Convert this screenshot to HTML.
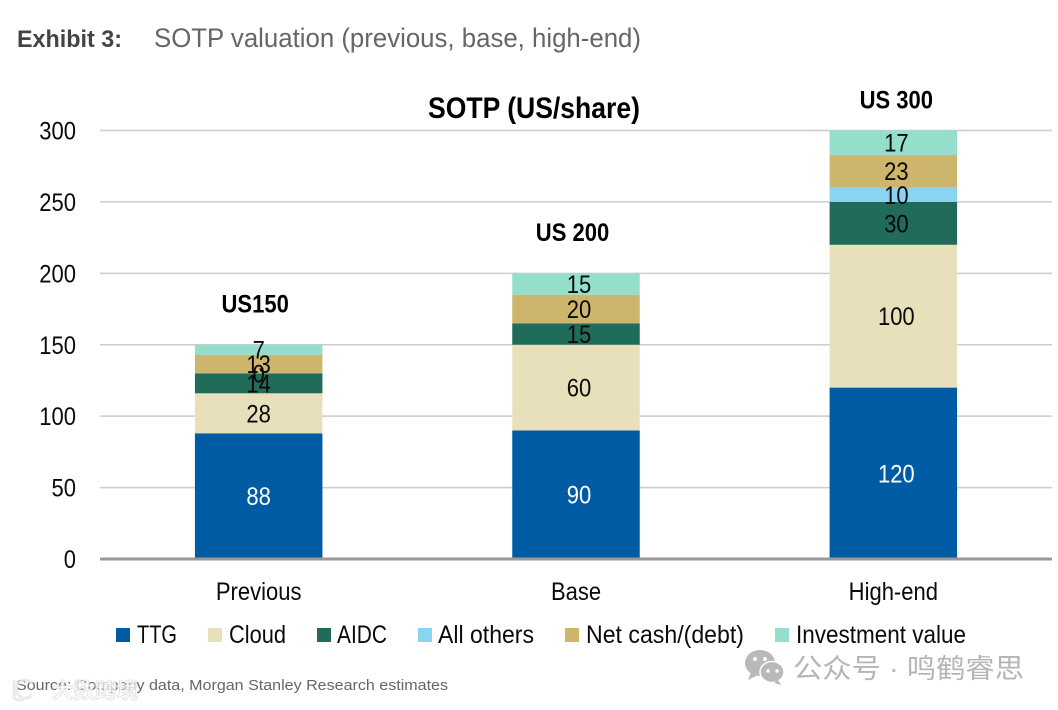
<!DOCTYPE html>
<html lang="en">
<head>
<meta charset="utf-8">
<title>SOTP valuation</title>
<style>
html,body{margin:0;padding:0;background:#fff;}
svg{display:block;}
text{font-family:"Liberation Sans Narrow","Liberation Sans","Noto Sans CJK SC",sans-serif;}
.wide{font-family:"Liberation Sans","Noto Sans CJK SC",sans-serif;}
.leg{font-size:25px;fill:#0a0a0a;}
</style>
</head>
<body>
<svg id="chart" width="1058" height="710" viewBox="0 0 1058 710" xmlns="http://www.w3.org/2000/svg">
  <g id="header">
    <text class="wide" x="17" y="47" font-size="24" font-weight="700" fill="#444" textLength="105" lengthAdjust="spacingAndGlyphs">Exhibit 3:</text>
    <text class="wide" x="154" y="47" font-size="27" fill="#666" textLength="487" lengthAdjust="spacingAndGlyphs">SOTP valuation (previous, base, high-end)</text>
  </g>
  <text x="428" y="118" font-size="30" font-weight="700" fill="#000" textLength="212" lengthAdjust="spacingAndGlyphs">SOTP (US/share)</text>
  <g id="grid"></g>
  <g id="bars"></g>
  <g id="labels"></g>
  <g id="axis"></g>
  <g>
    <g><rect x="116" y="628" width="14" height="14" fill="#005ba5"/><text class="leg" x="137" y="643" textLength="40" lengthAdjust="spacingAndGlyphs">TTG</text></g>
    <g><rect x="208" y="628" width="14" height="14" fill="#e8dfbb"/><text class="leg" x="229" y="643" textLength="57" lengthAdjust="spacingAndGlyphs">Cloud</text></g>
    <g><rect x="317" y="628" width="14" height="14" fill="#216b5a"/><text class="leg" x="337" y="643" textLength="50" lengthAdjust="spacingAndGlyphs">AIDC</text></g>
    <g><rect x="418" y="628" width="14" height="14" fill="#8ad4f2"/><text class="leg" x="438" y="643" textLength="96" lengthAdjust="spacingAndGlyphs">All others</text></g>
    <g><rect x="565" y="628" width="14" height="14" fill="#cdb66b"/><text class="leg" x="586" y="643" textLength="158" lengthAdjust="spacingAndGlyphs">Net cash/(debt)</text></g>
    <g><rect x="775" y="628" width="14" height="14" fill="#93dfcc"/><text class="leg" x="796" y="643" textLength="170" lengthAdjust="spacingAndGlyphs">Investment value</text></g>
  </g>
  <text class="wide" x="16" y="690" font-size="15" fill="#666" textLength="432" lengthAdjust="spacingAndGlyphs">Source: Company data, Morgan Stanley Research estimates</text>
  <g opacity="0.85">
    <path d="M14 680v16q0 4 5 4h5" fill="none" stroke="#e8e8e8" stroke-width="3"/>
    <path d="M32 683a9 9 0 1 0 0 12" fill="none" stroke="#e8e8e8" stroke-width="3"/>
    <text class="wide" x="52" y="698" font-size="21" font-weight="700" fill="#fff" stroke="#e2e2e2" stroke-width="1" textLength="86" lengthAdjust="spacingAndGlyphs">大数跨境</text>
  </g>
  <g>
    <g fill="#b9b9b9">
      <ellipse cx="760" cy="663" rx="15" ry="13"/>
      <ellipse cx="772" cy="672" rx="12" ry="10.5" stroke="#fff" stroke-width="1.5"/>
      <path d="M751 672l-3 8 8-4z"/>
      <path d="M778 680l3 5-7-2z"/>
      <circle cx="755" cy="659" r="2" fill="#fff"/>
      <circle cx="765" cy="659" r="2" fill="#fff"/>
      <circle cx="768" cy="671" r="1.7" fill="#fff"/>
      <circle cx="777" cy="671" r="1.7" fill="#fff"/>
    </g>
    <text class="wide" x="793" y="678" font-size="27" fill="#b5b5b5" textLength="231" lengthAdjust="spacingAndGlyphs">公众号 · 鸣鹤睿思</text>
  </g>
</svg>
<script>
const categories = ['Previous', 'Base', 'High-end'];
const totalLabels = ['US150', 'US 200', 'US 300'];
const yTicks = [0, 50, 100, 150, 200, 250, 300];
const ttg = [88, 90, 120];
const cloud = [28, 60, 100];
const aidc = [14, 15, 30];
const allOthers = [0, null, 10];
const netCash = [13, 20, 23];
const investmentValue = [7, 15, 17];
const seriesNames = ['ttg', 'cloud', 'aidc', 'all-others', 'net-cash', 'investment-value'];
const seriesValues = [ttg, cloud, aidc, allOthers, netCash, investmentValue];
const seriesColors = ['#005ba5', '#e8dfbb', '#216b5a', '#8ad4f2', '#cdb66b', '#93dfcc'];

const NS = 'http://www.w3.org/2000/svg';
const plotLeft = 100, plotRight = 1052, plotBottom = 559, plotTop = 130.5, yMax = 300;
const barWidth = 127.5;
const condense = 0.88;
const yScale = v => plotBottom - (v / yMax) * (plotBottom - plotTop);
const xBand = i => plotLeft + (i + 0.5) * (plotRight - plotLeft) / categories.length;

function mk(parent, tag, attrs, txt) {
  const el = document.createElementNS(NS, tag);
  for (const k in attrs) el.setAttribute(k, attrs[k]);
  if (txt !== undefined) el.textContent = txt;
  parent.appendChild(el);
  return el;
}
function narrow(el) {
  el.setAttribute('textLength', (el.getComputedTextLength() * condense).toFixed(1));
  el.setAttribute('lengthAdjust', 'spacingAndGlyphs');
}

const grid = document.getElementById('grid');
const bars = document.getElementById('bars');
const labels = document.getElementById('labels');
const axis = document.getElementById('axis');

yTicks.forEach(t => {
  if (t !== 0) {
    const line = mk(grid, 'line', {x1: plotLeft, x2: plotRight, y1: yScale(t), y2: yScale(t), stroke: '#cccccc', 'stroke-width': 1.5});
    
    
  }
  const tick = mk(axis, 'text', {x: 76, y: yScale(t) + 9, 'text-anchor': 'end', 'font-size': 25, fill: '#0a0a0a'}, String(t));
  
  
  narrow(tick);
});

categories.forEach((c, i) => {
  const cx = xBand(i);
  const dx = i ? 3 : 0;
  let cum = 0;
  seriesValues.forEach((vals, s) => {
    const v = vals[i];
    if (v === null) return;
    const y0 = yScale(cum), y1 = yScale(cum + v);
    if (v > 0) {
      const bar = mk(bars, 'rect', {x: cx - barWidth / 2, y: y1, width: barWidth, height: y0 - y1, fill: seriesColors[s]});
      
      
    }
    const lab = mk(labels, 'text', {x: cx + dx, y: (y0 + y1) / 2 + 9, 'text-anchor': 'middle', 'font-size': 25, fill: s === 0 ? '#ffffff' : '#0a0a0a'}, String(v));
    
    
    narrow(lab);
    cum += v;
  });
  const total = mk(labels, 'text', {x: cx + (i === 2 ? 3 : -3.5), y: Math.max(yScale(cum) - 41, 100) + 8.5, 'text-anchor': 'middle', 'font-size': 25, 'font-weight': 700, fill: '#000'}, totalLabels[i]);
  
  
  narrow(total);
  const cat = mk(axis, 'text', {x: cx, y: 600, 'text-anchor': 'middle', 'font-size': 25, fill: '#0a0a0a'}, c);
  
  
  narrow(cat);
});

const base = mk(axis, 'line', {x1: plotLeft, x2: plotRight, y1: plotBottom, y2: plotBottom, stroke: '#999999', 'stroke-width': 3});


</script>
</body>
</html>
